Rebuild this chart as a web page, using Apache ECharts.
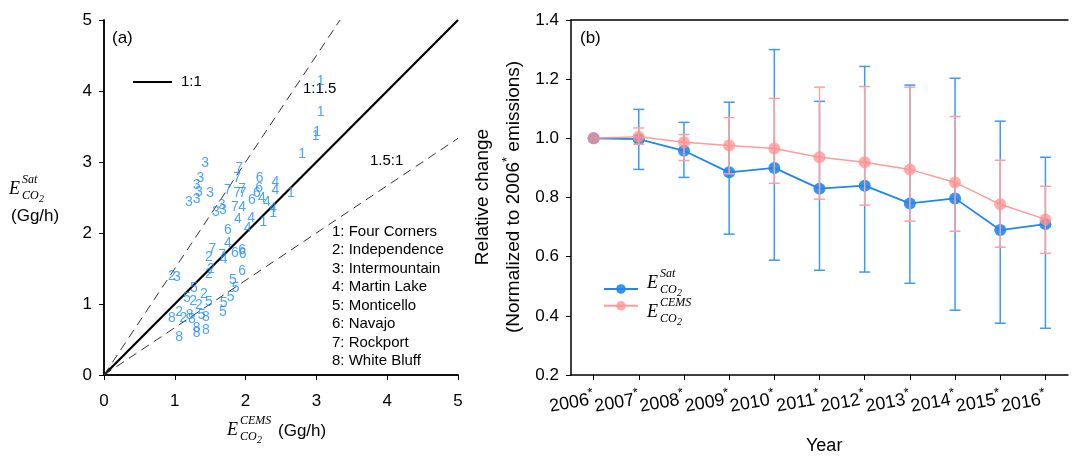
<!DOCTYPE html>
<html><head><meta charset="utf-8">
<script src="https://cdn.jsdelivr.net/npm/echarts@6/dist/echarts.min.js"></script>
<style>html,body{margin:0;padding:0;background:#fff}#c{width:1072px;height:456px}</style>
</head><body><div id="c"></div>
<script>
// ---------- Panel (a) data: [E_CEMS, E_Sat] in Gg/h ----------
const plantNames = ['Four Corners','Independence','Intermountain','Martin Lake','Monticello','Navajo','Rockport','White Bluff'];
const plant1 = [[3.06,4.14],[3.06,3.70],[2.99,3.37],[3.01,3.42],[2.80,3.11],[2.64,2.56],[2.39,2.28],[2.25,2.15]];
const plant2 = [[1.48,1.66],[1.51,1.49],[1.48,1.42],[0.96,1.39],[1.41,1.14],[1.26,1.04],[1.34,0.99],[1.06,0.89],[1.12,0.80]];
const plant3 = [[1.43,2.99],[1.36,2.77],[1.31,2.68],[1.34,2.58],[1.50,2.56],[1.20,2.44],[1.31,2.48],[1.58,2.30],[1.68,2.32],[1.66,2.39],[1.03,1.38]];
const plant4 = [[2.42,2.72],[2.42,2.61],[2.23,2.49],[2.30,2.44],[2.39,2.35],[1.95,2.37],[1.89,2.20],[2.08,2.21],[2.03,2.07],[1.75,1.86],[1.69,1.63]];
const plant5 = [[1.27,1.22],[1.17,1.08],[1.48,1.03],[1.82,1.34],[1.86,1.22],[1.79,1.10],[1.69,1.01],[1.68,0.89],[1.38,0.85]];
const plant6 = [[2.20,2.77],[2.19,2.63],[2.16,2.56],[2.09,2.46],[1.75,2.04],[1.85,1.72],[1.95,1.76],[1.96,1.70],[1.95,1.46]];
const plant7 = [[1.91,2.92],[1.88,2.77],[1.75,2.61],[1.95,2.62],[1.88,2.56],[1.96,2.56],[1.85,2.37],[1.53,1.77],[1.67,1.69]];
const plant8 = [[0.96,0.80],[1.21,0.85],[1.24,0.79],[1.44,0.82],[1.31,0.66],[1.31,0.59],[1.44,0.63],[1.06,0.54]];
const plants = [plant1,plant2,plant3,plant4,plant5,plant6,plant7,plant8];

// ---------- Panel (b) data ----------
const years = ['2006','2007','2008','2009','2010','2011','2012','2013','2014','2015','2016'];
const satMean = [1.000,0.997,0.958,0.885,0.900,0.830,0.840,0.780,0.797,0.690,0.710];
const satLow  = [1.000,0.895,0.868,0.676,0.588,0.554,0.548,0.510,0.419,0.375,0.358];
const satHigh = [1.000,1.098,1.054,1.122,1.300,1.125,1.243,1.180,1.203,1.058,0.936];
const cemsMean = [1.000,1.005,0.987,0.976,0.966,0.936,0.919,0.895,0.851,0.777,0.726];
const cemsLow  = [1.000,0.980,0.925,0.880,0.848,0.794,0.774,0.720,0.686,0.632,0.611];
const cemsHigh = [1.000,1.035,1.013,1.070,1.135,1.173,1.175,1.173,1.074,0.926,0.838];

const FONT = '"Liberation Sans", Arial, sans-serif';
const MATH = '"Liberation Serif", "DejaVu Serif", serif';
const BLUE = '#1E88F0';
const PINK = '#FF9090';
const DIGIT = '#1E8CFF';

const chart = echarts.init(document.getElementById('c'), null, {renderer:'canvas'});

function errSeries(low, high, color, z){
  return {
    type:'custom', xAxisIndex:2, yAxisIndex:2, z:z,
    data: years.map((y,i)=>[i, low[i], high[i]]),
    renderItem:function(params, api){
      if (api.value(1) === api.value(2)) return null;
      const p1 = api.coord([api.value(0), api.value(1)]);
      const p2 = api.coord([api.value(0), api.value(2)]);
      const w = 5.5;
      const st = {stroke:color, lineWidth:1.5};
      return {type:'group', children:[
        {type:'line', shape:{x1:p1[0],y1:p1[1],x2:p2[0],y2:p2[1]}, style:st},
        {type:'line', shape:{x1:p1[0]-w,y1:p1[1],x2:p1[0]+w,y2:p1[1]}, style:st},
        {type:'line', shape:{x1:p2[0]-w,y1:p2[1],x2:p2[0]+w,y2:p2[1]}, style:st}
      ]};
    }
  };
}

function mathLabel(x, y, sup, extra){
  const els = [
    {type:'text', left:x, top:y-11, style:{text:'E', font:'italic 18px '+MATH, fill:'#000'}},
    {type:'text', left:x+13, top:y-17, style:{text:sup, font:'italic 12px '+MATH, fill:'#000'}},
    {type:'text', left:x+13, top:y-1, style:{text:'CO', font:'italic 12px '+MATH, fill:'#000'}},
    {type:'text', left:x+30, top:y+3, style:{text:'2', font:'italic 10px '+MATH, fill:'#000'}}
  ];
  if (extra) els.push({type:'text', left:extra.x, top:extra.y, style:{text:extra.text, font:'17px '+FONT, fill:'#000'}});
  return els;
}

const scatterSeries = plants.map((d,k)=>({
  type:'scatter', name:plantNames[k], xAxisIndex:0, yAxisIndex:0,
  data:d, symbolSize:2, itemStyle:{color:'rgba(0,0,0,0)'}, z:3,
  label:{show:true, position:'inside', formatter:String(k+1), color:DIGIT,
         fontSize:14, fontFamily:FONT}
}));

const plantListGraphics = plantNames.map((n,i)=>({
  type:'text', left:332, top:224+i*18.5,
  style:{text:(i+1)+': '+n, font:'15px '+FONT, fill:'#000'}
}));

const option = {
  animation:false,
  grid:[
    {left:104, top:20, width:354, height:355},
    {left:571, top:20, width:497, height:355}
  ],
  xAxis:[
    {type:'value', gridIndex:0, min:0, max:5, interval:1,
     axisLine:{lineStyle:{color:'#000', width:1.5}},
     axisTick:{show:true, length:5, lineStyle:{color:'#000'}},
     axisLabel:{color:'#000', fontSize:17, fontFamily:FONT, margin:18},
     splitLine:{show:false}},
    {type:'value', gridIndex:0, position:'top', min:0, max:5,
     axisLine:{lineStyle:{color:'#000', width:1.5}}, axisTick:{show:false}, axisLabel:{show:false}, splitLine:{show:false}},
    {type:'category', gridIndex:1, data:years, boundaryGap:true,
     axisLine:{lineStyle:{color:'#000', width:1.5}},
     axisTick:{show:true, alignWithLabel:true, length:5, lineStyle:{color:'#000'}},
     axisLabel:{rotate:10, margin:22, interval:0, color:'#000', fontFamily:FONT,
       formatter:v=>'{n|'+v+'}{s|*}',
       rich:{n:{fontSize:18, fontFamily:FONT, color:'#000', lineHeight:22, verticalAlign:'bottom'},
             s:{fontSize:13, fontFamily:FONT, color:'#000', lineHeight:22, verticalAlign:'top'}}},
     splitLine:{show:false}},
    {type:'category', gridIndex:1, position:'top', data:years,
     axisLine:{lineStyle:{color:'#000', width:1.5}}, axisTick:{show:false}, axisLabel:{show:false}}
  ],
  yAxis:[
    {type:'value', gridIndex:0, min:0, max:5, interval:1,
     axisLine:{show:true, lineStyle:{color:'#000', width:1.5}},
     axisTick:{show:true, length:5, lineStyle:{color:'#000'}},
     axisLabel:{color:'#000', fontSize:17, fontFamily:FONT, margin:12},
     splitLine:{show:false}},
    {type:'value', gridIndex:0, position:'right', min:0, max:5,
     axisLine:{show:true, lineStyle:{color:'#000', width:1.5}}, axisTick:{show:false}, axisLabel:{show:false}, splitLine:{show:false}},
    {type:'value', gridIndex:1, min:0.2, max:1.4, interval:0.2,
     axisLine:{show:true, lineStyle:{color:'#000', width:1.5}},
     axisTick:{show:true, length:5, lineStyle:{color:'#000'}},
     axisLabel:{color:'#000', fontSize:17, fontFamily:FONT, margin:12, formatter:v=>v.toFixed(1)},
     splitLine:{show:false}}
  ],
  legend:{
    orient:'vertical', left:598, top:278, itemWidth:34, itemHeight:12, itemGap:6,
    data:['sat','cems'], formatter:()=>'', textStyle:{fontSize:12},
    selectedMode:false
  },
  series:[
    {type:'line', xAxisIndex:0, yAxisIndex:0, data:[[0,0],[5,5]], symbol:'none',
     lineStyle:{color:'#000', width:2.2}, z:2, silent:true},
    {type:'line', xAxisIndex:0, yAxisIndex:0, data:[[0,0],[10/3,5]], symbol:'none',
     lineStyle:{color:'#333', width:1, type:[9,6]}, z:2, silent:true},
    {type:'line', xAxisIndex:0, yAxisIndex:0, data:[[0,0],[5,10/3]], symbol:'none',
     lineStyle:{color:'#333', width:1, type:[9,6]}, z:2, silent:true},
    ...scatterSeries,
    errSeries(satLow, satHigh, '#3A9AF5', 3),
    {type:'line', name:'sat', xAxisIndex:2, yAxisIndex:2, data:satMean, symbol:'circle', symbolSize:12,
     lineStyle:{color:BLUE, width:1.8}, itemStyle:{color:BLUE, opacity:0.9}, z:4},
    errSeries(cemsLow, cemsHigh, '#FFA0A0', 5),
    {type:'line', name:'cems', xAxisIndex:2, yAxisIndex:2, data:cemsMean, symbol:'circle', symbolSize:12,
     lineStyle:{color:PINK, width:1.5, opacity:0.9}, itemStyle:{color:PINK, opacity:0.75}, z:6}
  ],
  graphic:[
    {type:'text', left:112, top:30, style:{text:'(a)', font:'17px '+FONT, fill:'#000'}},
    {type:'line', shape:{x1:133,y1:82,x2:172,y2:82}, style:{stroke:'#000', lineWidth:2.2}},
    {type:'text', left:181, top:74, style:{text:'1:1', font:'15px '+FONT, fill:'#000'}},
    {type:'text', left:303, top:81, style:{text:'1:1.5', font:'15px '+FONT, fill:'#000'}},
    {type:'text', left:370, top:153, style:{text:'1.5:1', font:'15px '+FONT, fill:'#000'}},
    ...plantListGraphics,
    ...mathLabel(9, 191, 'Sat', {x:11, y:208, text:'(Gg/h)'}),
    ...mathLabel(227, 432, 'CEMS', {x:278, y:423, text:'(Gg/h)'}),
    {type:'text', left:580, top:30, style:{text:'(b)', font:'17px '+FONT, fill:'#000'}},
    ...mathLabel(647, 285, 'Sat'),
    ...mathLabel(647, 314, 'CEMS'),
    {type:'text', left:806, top:437, style:{text:'Year', font:'18px '+FONT, fill:'#000'}},
    {type:'text', x:483, y:197, rotation:Math.PI/2,
     style:{text:'Relative change', font:'19px '+FONT, fill:'#000', align:'center', verticalAlign:'middle'}},
    {type:'text', x:512, y:197, rotation:Math.PI/2,
     style:{text:'{n|(Normalized to 2006}{s|*}{n| emissions)}', align:'center', verticalAlign:'middle',
       rich:{n:{fontSize:19, fontFamily:FONT, fill:'#000', lineHeight:22, verticalAlign:'bottom'},
             s:{fontSize:13, fontFamily:FONT, fill:'#000', lineHeight:22, verticalAlign:'top'}}}}
  ]
};
chart.setOption(option);
</script></body></html>
